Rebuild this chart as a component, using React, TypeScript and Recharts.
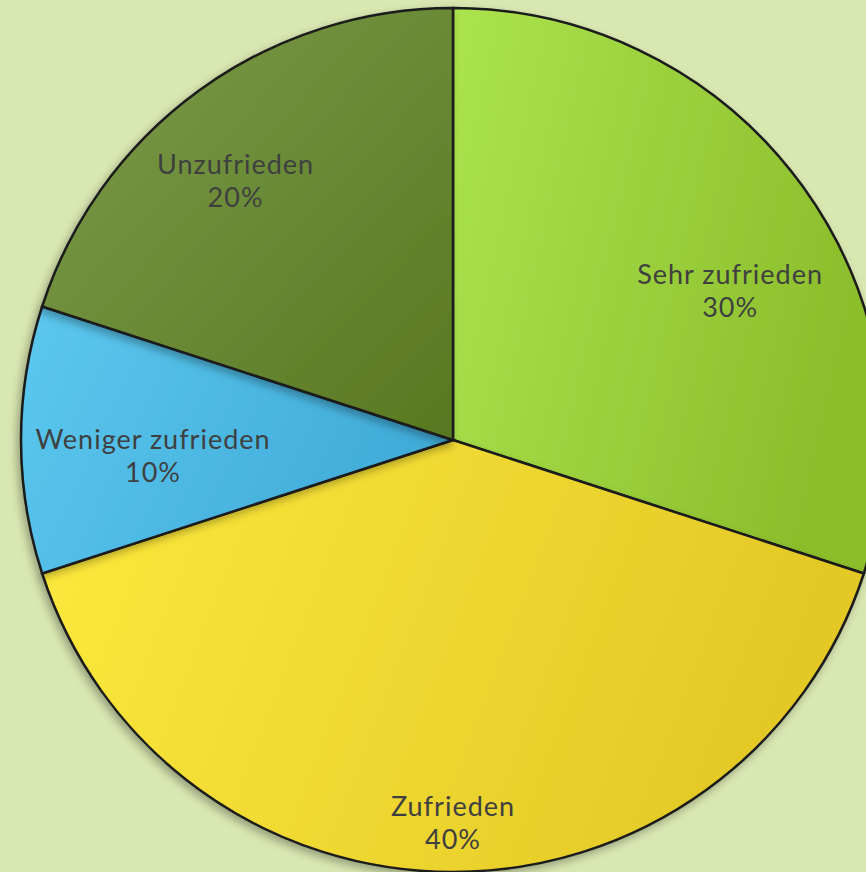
import React from "react";
import { PieChart, Pie, Cell } from "recharts";

const categories = ["Sehr zufrieden", "Zufrieden", "Weniger zufrieden", "Unzufrieden"];
const values = [30, 40, 10, 20];
const percentLabels = ["30%", "40%", "10%", "20%"];

const gradients = [
  { id: "g0", from: "#abe44e", to: "#8cbd2c", x1: "0", y1: "0", x2: "1", y2: "0.3" },
  { id: "g1", from: "#fde93c", to: "#e3c826", x1: "0", y1: "0", x2: "1", y2: "0.2" },
  { id: "g2", from: "#5cc8ef", to: "#40abd8", x1: "0", y1: "0", x2: "1", y2: "0.3" },
  { id: "g3", from: "#7c9c4c", to: "#587820", x1: "0", y1: "0", x2: "1", y2: "1" },
];

// label nudges relative to a default radial placement
const labelNudge = [
  [15, 40],
  [0, 58],
  [24, 15],
  [-27, 2],
];

const data = categories.map((c, i) => ({ name: c, value: values[i], pct: percentLabels[i] }));

const RAD = Math.PI / 180;

const renderLabel = (props: any) => {
  const { cx, cy, midAngle, outerRadius, index } = props;
  const r = outerRadius * 0.75;
  const x = cx + r * Math.cos(-midAngle * RAD) + labelNudge[index][0];
  const y = cy + r * Math.sin(-midAngle * RAD) + labelNudge[index][1];
  return (
    <text
      x={x}
      y={y}
      textAnchor="middle"
      fill="#3f3f3f"
      fontFamily="Lato, 'Open Sans', sans-serif"
      fontSize={27}
      letterSpacing={1}
    >
      <tspan x={x} dy={-6}>{categories[index]}</tspan>
      <tspan x={x} dy={33}>{percentLabels[index]}</tspan>
    </text>
  );
};

export default function App() {
  return (
    <div
      style={{
        position: "absolute",
        left: 0,
        top: 0,
        width: 866,
        height: 872,
        background: "#d9e7b1",
        overflow: "hidden",
      }}
    >
      <PieChart width={866} height={872} margin={{ top: 0, right: 0, bottom: 0, left: 0 }}>
        <defs>
          {gradients.map((g) => (
            <linearGradient key={g.id} id={g.id} x1={g.x1} y1={g.y1} x2={g.x2} y2={g.y2}>
              <stop offset="0%" stopColor={g.from} />
              <stop offset="100%" stopColor={g.to} />
            </linearGradient>
          ))}
          <filter id="shadow" x="-10%" y="-10%" width="120%" height="120%">
            <feDropShadow dx="-3" dy="4" stdDeviation="4" floodColor="#000" floodOpacity="0.3" />
          </filter>
        </defs>
        <Pie
          data={data}
          dataKey="value"
          nameKey="name"
          cx={453}
          cy={440}
          outerRadius={432}
          startAngle={90}
          endAngle={-270}
          stroke="#1a1a1a"
          strokeWidth={2.5}
          label={renderLabel}
          labelLine={false}
          isAnimationActive={false}
          style={{ filter: "url(#shadow)" }}
        >
          {data.map((d, i) => (
            <Cell key={d.name} fill={`url(#${gradients[i].id})`} />
          ))}
        </Pie>
      </PieChart>
    </div>
  );
}
